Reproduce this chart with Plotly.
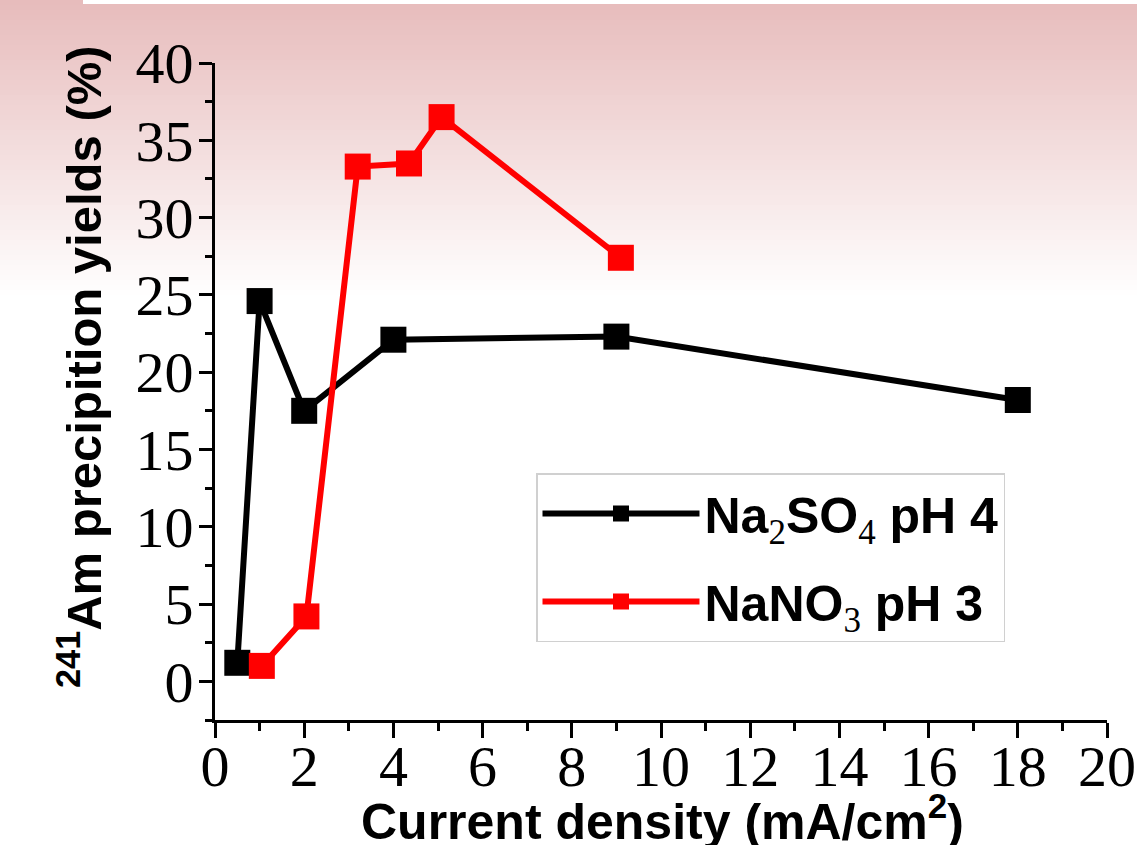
import plotly.graph_objects as go

# ---- data ----
na2so4_x = [0.5, 1.0, 2.0, 4.0, 9.0, 18.0]
na2so4_y = [1.2, 24.6, 17.5, 22.1, 22.3, 18.2]

nano3_x = [1.05, 2.05, 3.2, 4.35, 5.08, 9.1]
nano3_y = [1.0, 4.2, 33.3, 33.5, 36.5, 27.4]

x_ticks = [0, 2, 4, 6, 8, 10, 12, 14, 16, 18, 20]
y_ticks = [0, 5, 10, 15, 20, 25, 30, 35, 40]

sub = '<span style="font-family:Liberation Serif;font-weight:normal"><sub>%s</sub></span>'
series_names = [
    'Na' + sub % '2' + 'SO' + sub % '4' + ' pH 4',
    'NaNO' + sub % '3' + ' pH 3',
]
x_title = "Current density (mA/cm<sup>2</sup>)"
y_title = "<sup>241</sup>Am precipition yields (%)"

W, H = 1137, 845
L, R, T, B = 215, 30, 63, 125
PW, PH = W - L - R, H - T - B

def px_x(px):
    return (px - L) / PW

def px_y(py):
    return (H - B - py) / PH

fig = go.Figure()

fig.add_trace(go.Scatter(
    x=na2so4_x, y=na2so4_y, mode="lines+markers", name=series_names[0],
    legendgroup="a",
    line=dict(color="black", width=6),
    marker=dict(symbol="square", size=26, color="black"),
))
fig.add_trace(go.Scatter(
    x=nano3_x, y=nano3_y, mode="lines+markers", name=series_names[1],
    legendgroup="b",
    line=dict(color="#ff0000", width=6),
    marker=dict(symbol="square", size=26, color="#ff0000"),
))

# ---- background gradient (decoration) ----
shapes = []
top_rgb = (231, 188, 188)
n_bands = 60
grad_end = 300.0
for i in range(n_bands):
    y0 = grad_end * i / n_bands
    y1 = grad_end * (i + 1) / n_bands
    f = i / (n_bands - 1)
    c = tuple(int(round(top_rgb[k] + (255 - top_rgb[k]) * f)) for k in range(3))
    shapes.append(dict(type="rect", xref="paper", yref="paper",
                       x0=px_x(-2), x1=px_x(W + 2),
                       y0=px_y(y1 + 0.6), y1=px_y(y0 - 0.1 if i else -2),
                       fillcolor="rgb(%d,%d,%d)" % c, line=dict(width=0), layer="below"))
# thin white strip at the very top
shapes.append(dict(type="rect", xref="paper", yref="paper",
                   x0=px_x(83), x1=px_x(W + 2),
                   y0=px_y(4), y1=px_y(-2),
                   fillcolor="white", line=dict(width=0), layer="below"))

tickfont = dict(family="Liberation Serif, Times New Roman, serif", size=58, color="black")
titlefont_x = dict(family="Liberation Sans, Arial, sans-serif", size=50, color="black", weight="bold")
titlefont_y = dict(family="Liberation Sans, Arial, sans-serif", size=49, color="black", weight="bold")

fig.update_layout(
    width=W, height=H,
    margin=dict(l=L, r=R, t=T, b=B, pad=0, autoexpand=False),
    paper_bgcolor="white",
    plot_bgcolor="rgba(0,0,0,0)",
    shapes=shapes,
    showlegend=True,
    legend=dict(
        x=px_x(536), y=px_y(473),
        xanchor="left", yanchor="top",
        bgcolor="white", bordercolor="#d0d0d0", borderwidth=1.5,
        font=dict(family="Liberation Sans, Arial, sans-serif", size=50, color="black", weight="bold"),
        itemwidth=157, tracegroupgap=20,
    ),
    annotations=[
        dict(text=y_title, xref="paper", yref="paper",
             x=px_x(80), y=px_y(367), xanchor="center", yanchor="middle",
             textangle=-90, showarrow=False, font=titlefont_y),
        dict(text=x_title, xref="paper", yref="paper",
             x=px_x(662), y=px_y(852), xanchor="center", yanchor="bottom",
             showarrow=False, font=titlefont_x),
    ],
    xaxis=dict(
        range=[0, 20], tickmode="array", tickvals=x_ticks, ticktext=[str(v) for v in x_ticks],
        ticks="outside", ticklen=15, tickwidth=2.5, tickcolor="black",
        minor=dict(dtick=1, tick0=0, ticks="outside", ticklen=8, tickwidth=2.5, tickcolor="black"),
        showline=True, linewidth=3, linecolor="black",
        showgrid=False, zeroline=False, tickfont=tickfont, automargin=False,
        ticklabelstandoff=-22,
    ),
    yaxis=dict(
        range=[-2.5, 40], tickmode="array", tickvals=y_ticks, ticktext=[str(v) for v in y_ticks],
        ticks="outside", ticklen=13, tickwidth=2.5, tickcolor="black",
        minor=dict(dtick=2.5, tick0=0, ticks="outside", ticklen=7, tickwidth=2.5, tickcolor="black"),
        showline=True, linewidth=3, linecolor="black",
        showgrid=False, zeroline=False, tickfont=tickfont, automargin=False,
        ticklabelstandoff=-6,
    ),
    xaxis2=dict(
        range=[0, 20], overlaying="x", side="top", anchor="y",
        tickmode="array", tickvals=x_ticks, showticklabels=False,
        ticks="inside", ticklen=13, tickwidth=2.5, tickcolor="black",
        minor=dict(dtick=1, tick0=0, ticks="inside", ticklen=13, tickwidth=2.5, tickcolor="black"),
        showline=True, linewidth=3, linecolor="black", showgrid=False, zeroline=False,
        automargin=False,
    ),
    yaxis2=dict(
        range=[-2.5, 40], overlaying="y", side="right", anchor="x",
        tickmode="array", tickvals=y_ticks, showticklabels=False,
        ticks="inside", ticklen=12, tickwidth=2.5, tickcolor="black",
        minor=dict(dtick=2.5, tick0=0, ticks="inside", ticklen=7, tickwidth=2.5, tickcolor="black"),
        showline=True, linewidth=3, linecolor="black", showgrid=False, zeroline=False,
        automargin=False,
    ),
)

fig.write_html("out.html", config={"displayModeBar": False},
               post_script="document.body.style.margin='0px';")
